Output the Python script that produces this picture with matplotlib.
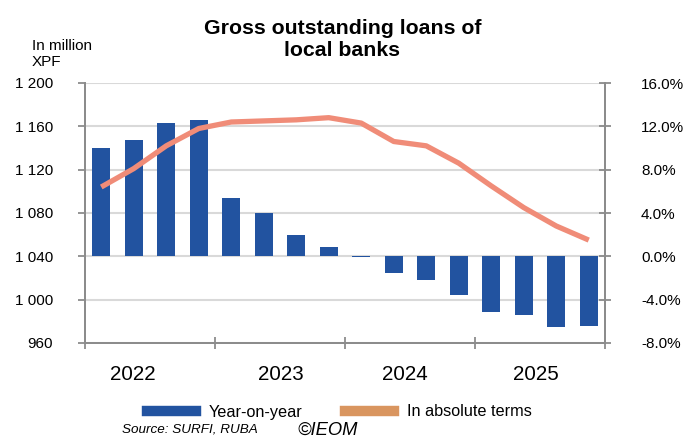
import numpy as np
import matplotlib
matplotlib.use("Agg")
import matplotlib.pyplot as plt
from matplotlib.lines import Line2D

plt.rcParams['font.family'] = ['Liberation Sans', 'DejaVu Sans']

# quarterly data 2022 Q1 - 2025 Q4
years = ["2022", "2023", "2024", "2025"]
yoy = [10.0, 10.7, 12.3, 12.6, 5.4, 4.0, 2.0, 0.9,
       -0.1, -1.55, -2.2, -3.6, -5.1, -5.45, -6.55, -6.4]
absolute = [1104, 1121, 1142, 1158, 1164, 1165, 1166, 1168,
            1163, 1146, 1142, 1126, 1105, 1085, 1068, 1055]
year_label_pos = [0.96, 5.53, 9.35, 13.38]

bar_col = "#2253A0"
line_col = "#F08C78"
legend_line_col = "#D9955F"
spine_col = "#8C8C8C"

x = np.arange(len(yoy))

fig = plt.figure(figsize=(6.85, 4.37), dpi=100)
ax = fig.add_axes([85/685, 1 - 343/437, 520/685, 260/437])
ax2 = ax.twinx()

# bars on the right (%) axis, drawn underneath
ax2.bar(x, yoy, width=0.54, color=bar_col, zorder=2)
ax2.set_ylim(-8, 16)
ax2.set_yticks(np.arange(-8, 17, 4))
ax2.set_yticklabels(["%.1f%%" % v for v in np.arange(-8, 17, 4)])
ax2.grid(axis="y", color="#D9D9D9", linewidth=1.5, zorder=0)
ax2.set_axisbelow(True)

# line on the left axis, on top
ax.plot(x, absolute, color=line_col, linewidth=3.8, solid_capstyle="butt", zorder=3)
ax.set_ylim(960, 1200)
ax.set_yticks(np.arange(960, 1201, 40))
ax.set_yticklabels(["{:,}".format(v).replace(",", " ") for v in range(960, 1201, 40)])
ax.set_zorder(ax2.get_zorder() + 1)
ax.patch.set_visible(False)

ax.set_xlim(-0.5, 15.5)
ax.set_xticks([-0.5, 3.5, 7.5, 11.5, 15.5])
ax.set_xticklabels([])
ax.tick_params(axis="x", direction="inout", length=8, width=1.3, color=spine_col)
ax.tick_params(axis="y", direction="out", length=5, width=1.3, color=spine_col,
               labelsize=11, pad=18)
ax2.tick_params(axis="y", direction="inout", length=8, width=1.3, color=spine_col,
                labelsize=11, pad=22)

for a in (ax, ax2):
    for s in a.spines.values():
        s.set_color(spine_col)
        s.set_linewidth(1.4)
    a.spines["top"].set_visible(False)

for pos, yr in zip(year_label_pos, years):
    ax.text(pos, -0.12, yr, transform=ax.get_xaxis_transform(),
            ha="center", va="center", fontsize=14.8)

fig.text(0.5, 1 - 39.5/437, "Gross outstanding loans of\nlocal banks", ha="center",
         va="center", fontsize=15.3, fontweight="bold", linespacing=1.17)
fig.text(32/685, 1 - 54/437, "In million\nXPF", ha="left", va="center",
         fontsize=11, linespacing=1.15)

handles = [Line2D([], [], color=bar_col, linewidth=7.5),
           Line2D([], [], color=legend_line_col, linewidth=7.5)]
fig.legend(handles, ["Year-on-year", "In absolute terms"], loc="center",
           bbox_to_anchor=(339.5/685, 1 - 412/437), ncol=2, frameon=False,
           fontsize=11.7, handlelength=3.0, handletextpad=0.8, columnspacing=2.6)

fig.text(122/685, 1 - 430/437, "Source: SURFI, RUBA", ha="left", va="center",
         fontsize=9.7, style="italic")
fig.text(297/685, 1 - 430/437, "©IEOM", ha="left", va="center",
         fontsize=13.2, style="italic")

fig.savefig("out.png", dpi=100)
